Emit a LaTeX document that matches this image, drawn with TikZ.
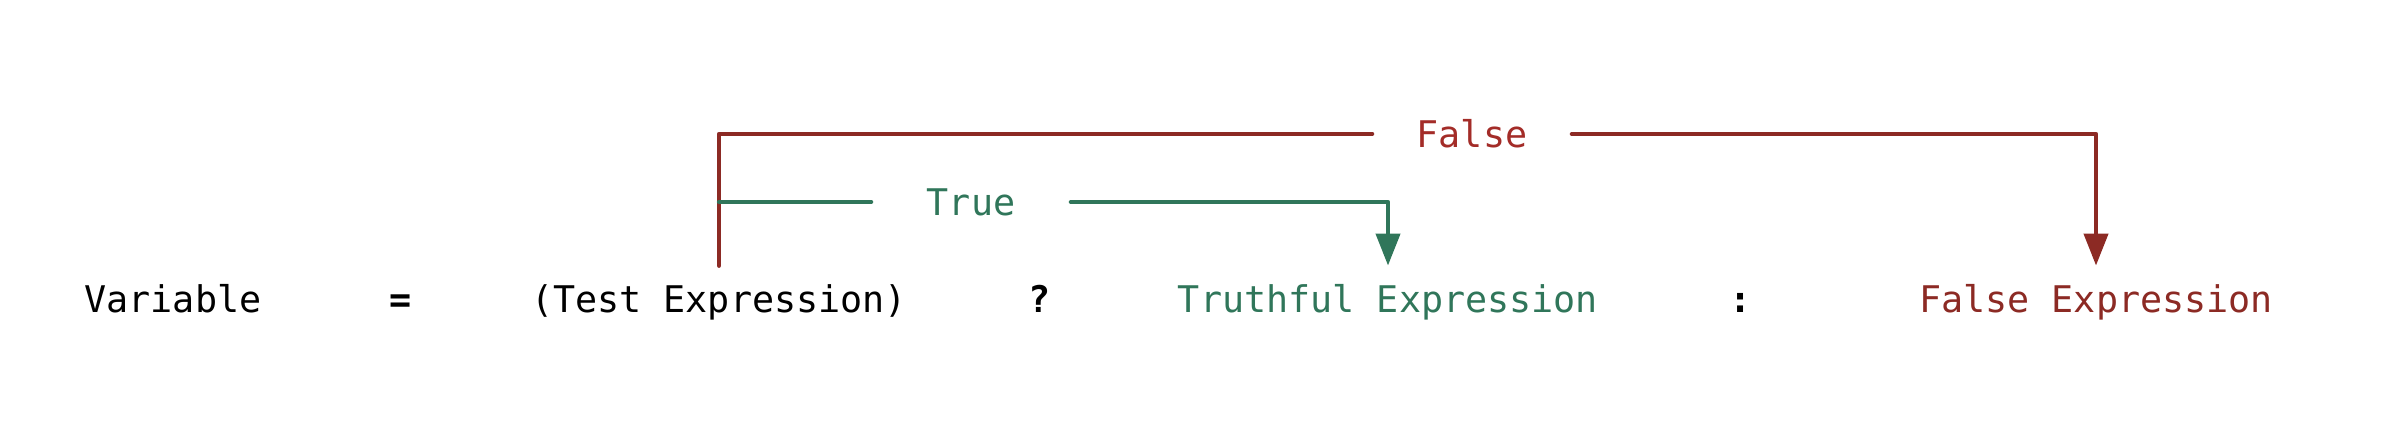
\documentclass[tikz,border=0pt]{standalone}
\usepackage{fontspec}
\setmonofont{DejaVu Sans Mono}
\usetikzlibrary{arrows.meta}

\definecolor{falsered}{RGB}{140,42,36}
\definecolor{lblred}{RGB}{163,44,40}
\definecolor{truegreen}{RGB}{48,118,90}

\begin{document}
\begin{tikzpicture}[
    font=\ttfamily\fontsize{20.9}{25}\selectfont,
    >={Triangle[length=0.64cm, width=0.48cm]},
    % --- styles ---
    % expressions in the statement row
    expr/.style={anchor=base, inner xsep=2pt, inner ysep=0.38cm},
    % operators: bold
    op/.style={anchor=base, font=\ttfamily\bfseries\fontsize{20.9}{25}\selectfont},
    % branch labels sitting in a gap of the line
    branchlbl/.style={minimum width=3.98cm, inner xsep=0pt},
    % branch lines
    branch/.style={line width=0.085cm, line join=round, line cap=round}
]
\useasboundingbox (0,0) rectangle (47.68,8.92);

% --- 1. Statement row ---
\node[expr] (var) at (3.46,2.66) {Variable};
\node[op] (eq) at (8.02,2.66) {=};
\node[expr] (test) at (14.38,2.66) {(Test Expression)};
\node[op] (qmark) at (20.80,2.66) {?};
\node[expr, text=truegreen] (truthy) at (27.76,2.66) {Truthful Expression};
\node[op] (colon) at (34.82,2.66) {:};
\node[expr, text=falsered] (falsy) at (41.92,2.66) {False Expression};

% --- 2. Branch labels ---
\node[branchlbl, text=truegreen] (truelbl) at (19.42,4.88) {True};
\node[branchlbl, text=lblred] (falselbl) at (29.44,6.24) {False};

% --- 3. False branch ---
\draw[branch, falsered] (test.north) |- (falselbl.west);
\draw[branch, falsered, ->] (falselbl.east) -| (falsy.north);

% --- 4. True branch ---
\draw[branch, truegreen] (test.north |- truelbl.west) -- (truelbl.west);
\draw[branch, truegreen, ->] (truelbl.east) -| (truthy.north);

\end{tikzpicture}
\end{document}
